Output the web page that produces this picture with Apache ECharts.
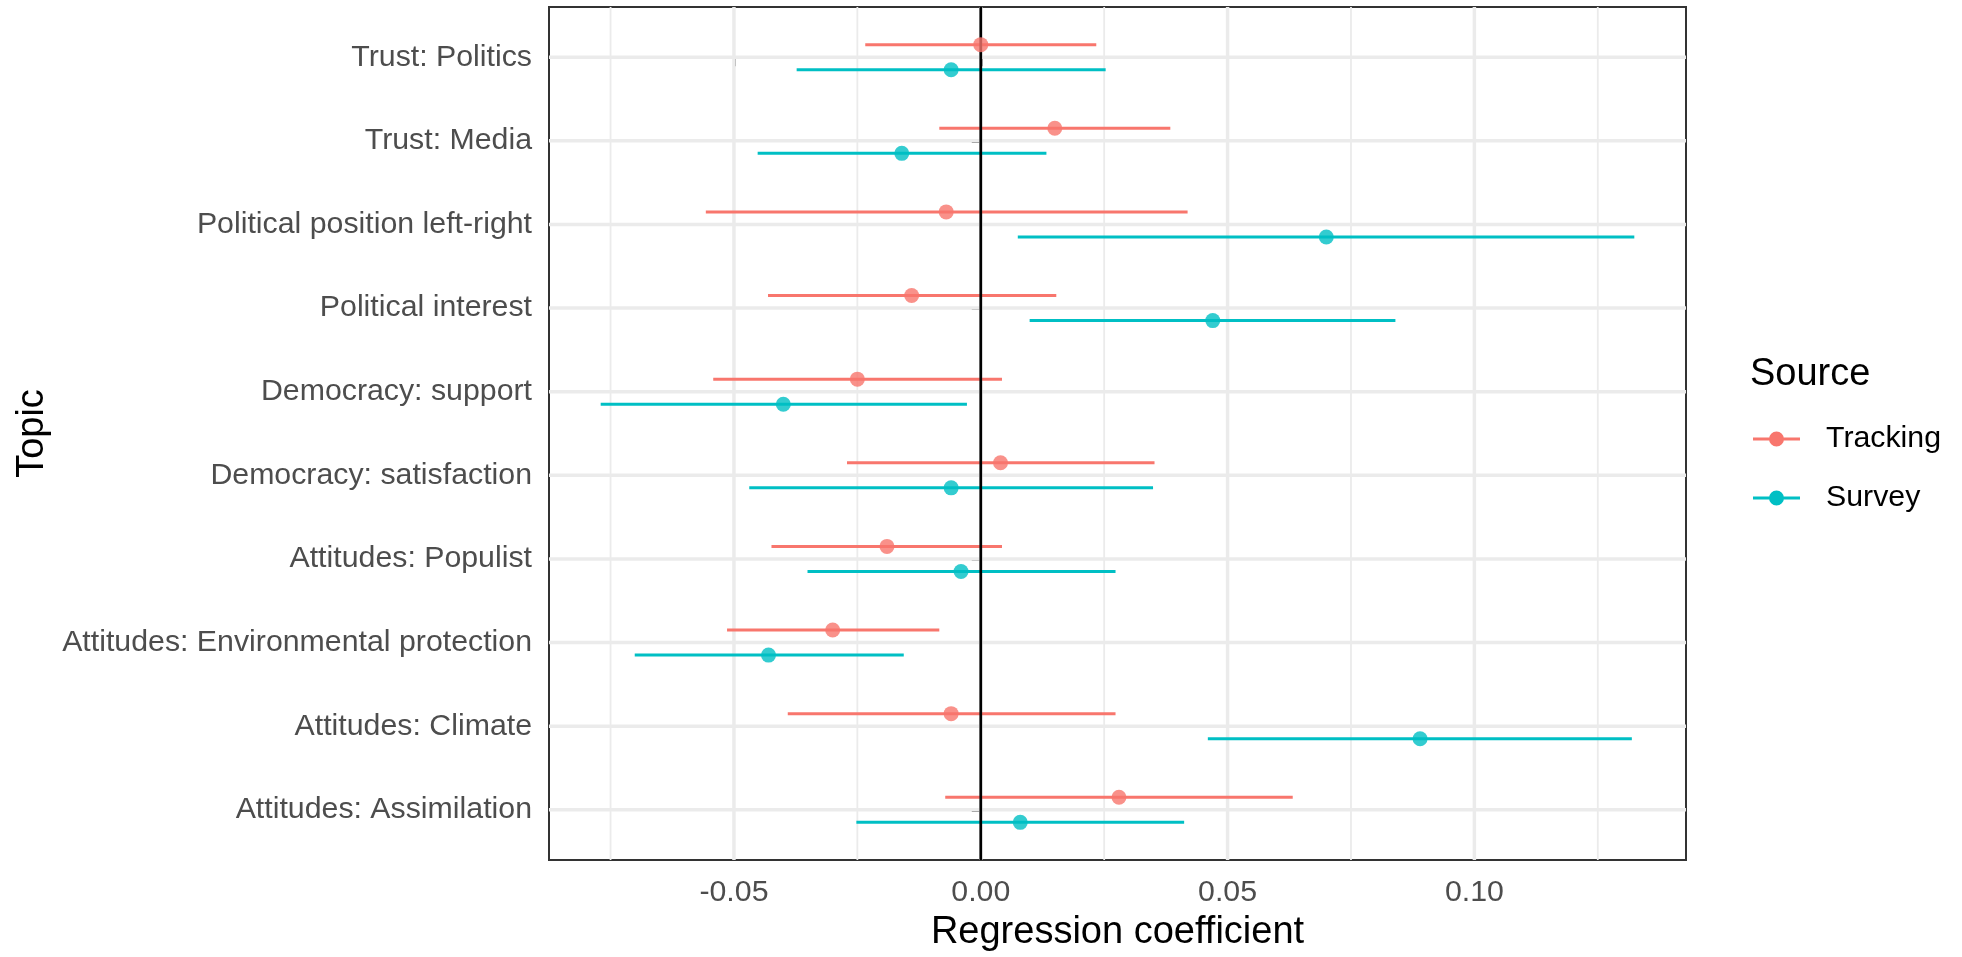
<!DOCTYPE html>
<html>
<head>
<meta charset="utf-8">
<script src="https://cdn.jsdelivr.net/npm/echarts@6/dist/echarts.min.js"></script>
<style>
  html, body { margin: 0; padding: 0; background: #fff; }
  #chart { width: 1962px; height: 957px; }
</style>
</head>
<body>
<div id="chart"></div>
<script>
// topics, top to bottom
var topics = ['Trust: Politics', 'Trust: Media', 'Political position left-right', 'Political interest',
  'Democracy: support', 'Democracy: satisfaction', 'Attitudes: Populist',
  'Attitudes: Environmental protection', 'Attitudes: Climate', 'Attitudes: Assimilation'];

var trackingEst  = [0.000, 0.015, -0.007, -0.014, -0.025, 0.004, -0.019, -0.030, -0.006, 0.028];
var trackingLow  = [-0.0234, -0.0084, -0.0557, -0.0431, -0.0542, -0.0271, -0.0424, -0.0514, -0.0391, -0.0072];
var trackingHigh = [0.0234, 0.0384, 0.0419, 0.0153, 0.0043, 0.0352, 0.0043, -0.0084, 0.0273, 0.0632];

var surveyEst  = [-0.006, -0.016, 0.070, 0.047, -0.040, -0.006, -0.004, -0.043, 0.089, 0.008];
var surveyLow  = [-0.0373, -0.0452, 0.0075, 0.0099, -0.0770, -0.0469, -0.0351, -0.0701, 0.0460, -0.0252];
var surveyHigh = [0.0253, 0.0133, 0.1324, 0.0840, -0.0028, 0.0349, 0.0273, -0.0156, 0.1319, 0.0412];

var xMajor = [-0.05, 0, 0.05, 0.10];
var xMinor = [-0.075, -0.025, 0.025, 0.075, 0.125];

var FONT = '"Liberation Sans", Arial, sans-serif';
var RED = '#F8766D', TEAL = '#00BFC4';

// ggplot style limits: 5% padding around the data range
var lo = Math.min.apply(null, trackingLow.concat(surveyLow));
var hi = Math.max.apply(null, trackingHigh.concat(surveyHigh));
var pad = (hi - lo) * 0.05;

var dodge = 0.15;
var catIdx = topics.map(function (t, i) { return i; });

function barData(low, high, est, off) {
  return topics.map(function (t, i) { return [low[i], high[i], est[i], i + off]; });
}
function pointData(est, off) {
  return topics.map(function (t, i) { return [est[i], i + off]; });
}

function errBar(color) {
  return function (params, api) {
    var y = api.value(3);
    var a = api.coord([api.value(0), y]);
    var b = api.coord([api.value(1), y]);
    return { type: 'line', shape: { x1: a[0], y1: a[1], x2: b[0], y2: b[1] },
      style: { stroke: color, lineWidth: 3 } };
  };
}
function vLine(color, width) {
  return function (params, api) {
    var cs = params.coordSys;
    var x = api.coord([api.value(0), 0])[0];
    return { type: 'line', shape: { x1: x, y1: cs.y, x2: x, y2: cs.y + cs.height },
      style: { stroke: color, lineWidth: width } };
  };
}
function hLine(color, width) {
  return function (params, api) {
    var cs = params.coordSys;
    var y = api.coord([0, api.value(1)])[1];
    return { type: 'line', shape: { x1: cs.x, y1: y, x2: cs.x + cs.width, y2: y },
      style: { stroke: color, lineWidth: width } };
  };
}

var chart = echarts.init(document.getElementById('chart'));
var legendIcon = 'path://M0,6H47V9H0Z M16,7.5A7.5,7.5 0 1 1 31,7.5A7.5,7.5 0 1 1 16,7.5Z';

var option = {
  animation: false,
  backgroundColor: '#ffffff',
  title: {
    text: 'Source', left: 1745, top: 351,
    textStyle: { fontFamily: FONT, fontSize: 38, fontWeight: 'normal', color: '#000' }
  },
  legend: {
    orient: 'vertical', left: 1748, top: 419,
    itemWidth: 47, itemHeight: 15, itemGap: 29,
    data: [{ name: 'Tracking', icon: legendIcon }, { name: 'Survey', icon: legendIcon }],
    textStyle: { fontFamily: FONT, fontSize: 30.3, color: '#000', lineHeight: 30, padding: [0, 0, 0, 21] }
  },
  grid: {
    left: 549, right: 276, top: 7, bottom: 90,
    show: true, borderColor: '#333333', borderWidth: 2, backgroundColor: '#fff'
  },
  xAxis: {
    type: 'value', min: lo - pad, max: hi + pad,
    name: 'Regression coefficient', nameLocation: 'middle', nameGap: 54,
    nameTextStyle: { fontFamily: FONT, fontSize: 38, color: '#000' },
    axisLine: { show: false },
    splitLine: { show: false },
    axisTick: { show: true, customValues: xMajor, length: 9, lineStyle: { color: '#333333', width: 2.5 } },
    axisLabel: {
      customValues: xMajor, margin: 18,
      fontFamily: FONT, fontSize: 30.3, color: '#4D4D4D',
      formatter: function (v) { return v.toFixed(2); }
    }
  },
  yAxis: {
    type: 'value', min: -0.6, max: topics.length - 1 + 0.6, inverse: true,
    name: 'Topic', nameLocation: 'middle', nameGap: 490, nameRotate: 90,
    nameTextStyle: { fontFamily: FONT, fontSize: 38, color: '#000' },
    axisLine: { show: false },
    splitLine: { show: false },
    axisTick: { show: true, customValues: catIdx, length: 9, lineStyle: { color: '#333333', width: 2.5 } },
    axisLabel: {
      customValues: catIdx, margin: 17,
      fontFamily: FONT, fontSize: 30.3, color: '#4D4D4D',
      formatter: function (v) { return topics[Math.round(v)]; }
    }
  },
  series: [
    { type: 'custom', silent: true, z: 1, renderItem: vLine('#EBEBEB', 1.8),
      data: xMinor.map(function (v) { return [v, 0]; }) },
    { type: 'custom', silent: true, z: 1, renderItem: vLine('#EBEBEB', 3.5),
      data: xMajor.map(function (v) { return [v, 0]; }) },
    { type: 'custom', silent: true, z: 1, renderItem: hLine('#EBEBEB', 3.5),
      data: catIdx.map(function (v) { return [0, v]; }) },
    { name: 'Tracking', type: 'custom', z: 2, itemStyle: { color: RED },
      renderItem: errBar(RED), encode: { x: [0, 1], y: 3 },
      data: barData(trackingLow, trackingHigh, trackingEst, -dodge) },
    { name: 'Survey', type: 'custom', z: 2, itemStyle: { color: TEAL },
      renderItem: errBar(TEAL), encode: { x: [0, 1], y: 3 },
      data: barData(surveyLow, surveyHigh, surveyEst, dodge) },
    { type: 'custom', silent: true, z: 3, renderItem: vLine('#000000', 2.7),
      data: [[0, 0]] },
    { name: 'Tracking', type: 'scatter', z: 4, symbol: 'circle', symbolSize: 15,
      itemStyle: { color: RED }, data: pointData(trackingEst, -dodge) },
    { name: 'Survey', type: 'scatter', z: 4, symbol: 'circle', symbolSize: 15,
      itemStyle: { color: TEAL }, data: pointData(surveyEst, dodge) }
  ]
};

chart.setOption(option);
</script>
</body>
</html>
